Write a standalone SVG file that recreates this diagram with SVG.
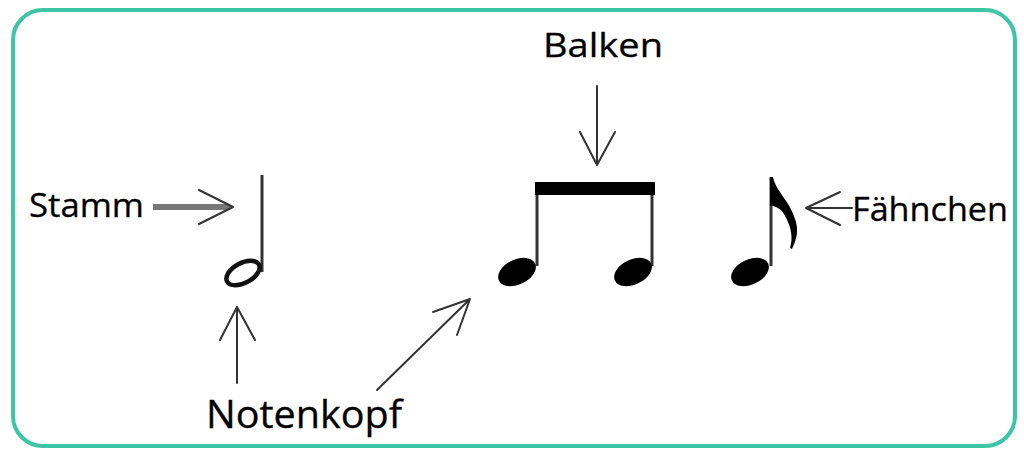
<svg xmlns="http://www.w3.org/2000/svg" width="1024" height="456" viewBox="0 0 1024 456">
<style>
.lbl{font-family:"Open Sans","Liberation Sans",sans-serif;fill:#000;stroke:#000;stroke-width:0.3;}
.arr{fill:none;stroke:#333;stroke-width:2;stroke-linecap:round;stroke-linejoin:round;}
.stem{stroke:#333;stroke-width:3;}
</style>
<rect x="0" y="0" width="1024" height="456" fill="#fff"/>
<rect x="13" y="10" width="1002" height="436" rx="30" fill="#fff" stroke="#3dc6a4" stroke-width="4"/>
<g id="half-note">
<line class="stem" x1="262" y1="175" x2="262" y2="272"/>
<ellipse cx="243" cy="273" rx="18" ry="10" transform="rotate(-28 243 273)" fill="none" stroke="#111" stroke-width="4.5"/>
</g>
<g id="beamed-notes">
<line class="stem" x1="537" y1="184" x2="537" y2="266"/>
<line class="stem" x1="652" y1="184" x2="652" y2="266"/>
<rect x="535" y="182" width="120" height="13" fill="#000"/>
<ellipse cx="517" cy="272" rx="20" ry="12.5" transform="rotate(-25 517 272)" fill="#000"/>
<ellipse cx="633" cy="272" rx="20" ry="12.5" transform="rotate(-25 633 272)" fill="#000"/>
</g>
<g id="eighth-note">
<line class="stem" x1="771" y1="177" x2="771" y2="266"/>
<ellipse cx="750" cy="272" rx="20" ry="12.5" transform="rotate(-25 750 272)" fill="#000"/>
<path d="M770 177 L773 177 C776 192 790 200 796 222 C799 234 795 242 792 249 L790 248 C793 238 792 228 784 214 C779 206 772 206 770 205 Z" fill="#000"/>
</g>
<g id="label-stamm">
<text class="lbl" x="29" y="217" font-size="32" textLength="115" lengthAdjust="spacingAndGlyphs">Stamm</text>
</g>
<g id="label-balken">
<text class="lbl" x="543" y="57" font-size="33" textLength="120" lengthAdjust="spacingAndGlyphs">Balken</text>
</g>
<g id="label-faehnchen">
<text class="lbl" x="852" y="221" font-size="32" textLength="156" lengthAdjust="spacingAndGlyphs">Fähnchen</text>
</g>
<g id="label-notenkopf">
<text class="lbl" x="206" y="428" font-size="38" textLength="196" lengthAdjust="spacingAndGlyphs">Notenkopf</text>
</g>
<g id="connectors">
<path d="M153 207 L230 207" fill="none" stroke="#777" stroke-width="6"/>
<path class="arr" d="M199 190 L233 207 L199 224" stroke="#444" stroke-width="3"/>
<path class="arr" d="M597 86 L597 165 M580 132 L597 165 L615 132"/>
<path class="arr" d="M852 208 L806 208 M840 192 L806 208 L840 225"/>
<path class="arr" d="M237 383 L237 307 M220 340 L237 307 L255 340"/>
<path class="arr" d="M377 390 L470 299 M433 312 L470 299 L457 335"/>
</g>
</svg>
